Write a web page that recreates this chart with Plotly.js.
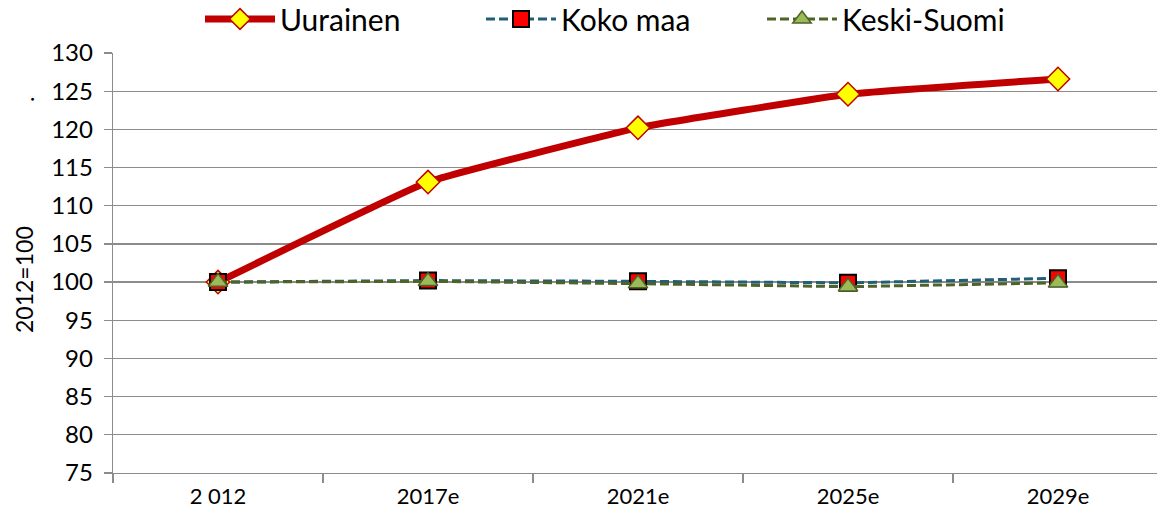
<!DOCTYPE html>
<html>
<head>
<meta charset="utf-8">
<script src="https://cdn.plot.ly/plotly-3.0.1.min.js"></script>
<style>
html, body { margin:0; padding:0; overflow:hidden; background:#fff; }
#chart { width:1170px; height:522px; }
</style>
</head>
<body>
<div id="chart"></div>
<script>
const categories = ["2 012", "2017e", "2021e", "2025e", "2029e"];
const uurainen = [100, 113.1, 120.2, 124.6, 126.6];
const kokoMaa = [100, 100.2, 100.1, 99.9, 100.5];
const keskiSuomi = [100, 100.1, 99.8, 99.4, 99.9];
const yTicks = [75, 80, 85, 90, 95, 100, 105, 110, 115, 120, 125, 130];
const seriesNames = ["Uurainen", "Koko maa", "Keski-Suomi"];

const traces = [
  {
    x: categories, y: uurainen, name: seriesNames[0], type: "scatter", mode: "lines+markers",
    line: {color: "#C00000", width: 7, shape: "spline", smoothing: 0.3},
    marker: {symbol: "diamond", size: 18, color: "#FFFF00", line: {color: "#C00000", width: 1.5}}
  },
  {
    x: categories, y: kokoMaa, name: seriesNames[1], type: "scatter", mode: "lines+markers",
    line: {color: "#215F75", width: 3, dash: "9px,4px"},
    marker: {symbol: "square", size: 16, color: "#FF0000", line: {color: "#000000", width: 2}}
  },
  {
    x: categories, y: keskiSuomi, name: seriesNames[2], type: "scatter", mode: "lines+markers",
    line: {color: "#4F6228", width: 3, dash: "9px,4px"},
    marker: {symbol: "triangle-up", size: 17, color: "#9BBB59", line: {color: "#4F6228", width: 1.5}}
  }
];

const layout = {
  width: 1170, height: 522,
  margin: {l: 113, r: 7, t: 53, b: 49, autoexpand: false},
  paper_bgcolor: "#ffffff", plot_bgcolor: "#ffffff",
  font: {family: "Lato, 'Open Sans', sans-serif", color: "#000000"},
  showlegend: true,
  legend: {
    orientation: "h", xref: "paper", yref: "paper",
    x: (200 - 113) / 1050, xanchor: "left", y: (473 + 7) / 420, yanchor: "top",
    font: {size: 30, color: "#000000"}, itemwidth: 70,
    entrywidth: 196, entrywidthmode: "pixels", tracegroupgap: 0,
    bgcolor: "rgba(0,0,0,0)"
  },
  xaxis: {
    type: "category", range: [-0.5, 4.5], tickson: "boundaries",
    ticks: "outside", ticklen: 9, tickcolor: "#8c8c8c", tickwidth: 1.3,
    showline: true, linecolor: "#8c8c8c", linewidth: 1.3,
    showgrid: false, zeroline: false, ticklabelstandoff: 3,
    tickfont: {size: 22, color: "#000000"}, fixedrange: true
  },
  yaxis: {
    range: [75, 130], tickvals: yTicks, ticktext: yTicks.map(String),
    ticks: "outside", ticklen: 8, tickcolor: "#8c8c8c", tickwidth: 1.3,
    showline: true, linecolor: "#8c8c8c", linewidth: 1.3,
    showgrid: true, gridcolor: "#8c8c8c", gridwidth: 1.3, zeroline: false,
    ticklabelstandoff: 6,
    tickfont: {size: 24, color: "#000000"}, fixedrange: true
  },
  annotations: [
    {text: "2012=100", xref: "paper", yref: "paper", x: (24 - 113) / 1050, y: (473 - 280) / 420,
     xanchor: "center", yanchor: "middle", textangle: -90, showarrow: false,
     font: {size: 23, color: "#000000"}},
    {text: ".", xref: "paper", yref: "paper", x: (25 - 113) / 1050, y: (473 - 100) / 420,
     xanchor: "center", yanchor: "middle", textangle: -90, showarrow: false,
     font: {size: 23, color: "#000000"}}
  ]
};

Plotly.newPlot("chart", traces, layout, {displayModeBar: false, staticPlot: true});
</script>
</body>
</html>
